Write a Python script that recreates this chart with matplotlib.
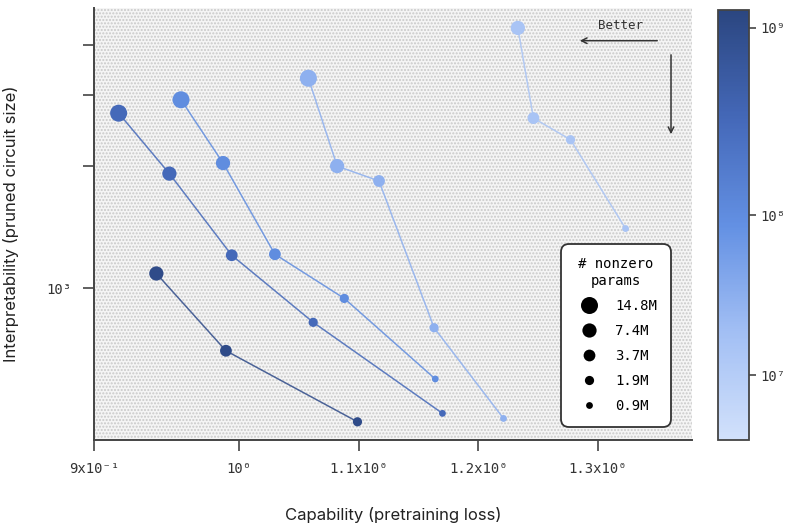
import numpy as np
import matplotlib
matplotlib.use("Agg")
import matplotlib.pyplot as plt
from matplotlib import colors
from matplotlib.cm import ScalarMappable
from matplotlib.lines import Line2D
from matplotlib.patches import Rectangle

# total params of each model (sets the colour)
total_params = [1.0e9, 3.2e8, 1.0e8, 3.0e7, 1.5e7]

# pretraining loss / pruned circuit size / nonzero params (M) per model
loss_a = [0.943, 0.991, 1.099]
circ_a = [1087, 700, 467]
nz_a = [7.4, 3.7, 1.9]

loss_b = [0.917, 0.952, 0.995, 1.062, 1.170]
circ_b = [2709, 1920, 1206, 823, 490]
nz_b = [14.8, 7.4, 3.7, 1.9, 0.9]

loss_c = [0.960, 0.989, 1.030, 1.088, 1.164]
circ_c = [2924, 2039, 1213, 943, 596]
nz_c = [14.8, 7.4, 3.7, 1.9, 0.9]

loss_d = [1.058, 1.082, 1.117, 1.163, 1.221]
circ_d = [3306, 2004, 1841, 798, 476]
nz_d = [14.8, 7.4, 3.7, 1.9, 0.9]

loss_e = [1.233, 1.246, 1.277, 1.323]
circ_e = [4403, 2634, 2329, 1404]
nz_e = [7.4, 3.7, 1.9, 0.9]

nz_levels = [14.8, 7.4, 3.7, 1.9, 0.9]
nz_labels = ["14.8M", "7.4M", "3.7M", "1.9M", "0.9M"]

x_ticks = [0.9, 1.0, 1.1, 1.2, 1.3]
x_ticklabels = ["9x10⁻¹", "10⁰", "1.1x10⁰", "1.2x10⁰", "1.3x10⁰"]
y_ticks = [1000, 2000, 3000, 4000]
y_ticklabels = ["10³", "", "", ""]
cb_ticks = [1e7, 1e8, 1e9]
cb_ticklabels = ["10⁷", "10⁸", "10⁹"]

MONO = "DejaVu Sans Mono"
SANS = "Inter"
area = {14.8: 150, 7.4: 105, 3.7: 72, 1.9: 44, 0.9: 24}

# axis scales as drawn in the original figure
XK = [0.5, 0.9, 1.0, 2.0]
XP = [-580, 0, 145, 1342]
def fwd_x(v):
    return np.interp(v, XK, XP)
def inv_x(p):
    return np.interp(p, XP, XK)

CK = [6, 7, 8, 9, 10]
CP = [-95, 65, 225, 412, 599]
def fwd_c(v):
    return np.interp(np.log10(np.clip(v, 1e-30, None)), CK, CP)
def inv_c(p):
    return 10 ** np.interp(p, CP, CK)

cmap = colors.LinearSegmentedColormap.from_list(
    "blues", [(0, "#d2e1fb"), (0.25, "#a2bff4"), (0.5, "#6390e3"),
              (0.75, "#4468b8"), (1, "#2b4680")])
norm = colors.FuncNorm((fwd_c, inv_c), vmin=3.93e6, vmax=1.248e9)

fig = plt.figure(figsize=(7.96, 5.23), dpi=100)
ax = fig.add_axes([94 / 796, 83 / 523, 598 / 796, 432 / 523])
cax = fig.add_axes([718 / 796, 83 / 523, 31 / 796, 430 / 523])

ax.set_xscale("function", functions=(fwd_x, inv_x))
ax.set_yscale("log")

# dotted background
plt.rcParams["hatch.linewidth"] = 1.0
ax.set_facecolor("#f5f5f5")
ax.add_patch(Rectangle((0, 0), 1, 1, transform=ax.transAxes, facecolor="none",
                       edgecolor="#c9c9c9", hatch=".....", lw=0, zorder=0))

series = [(loss_a, circ_a, nz_a), (loss_b, circ_b, nz_b), (loss_c, circ_c, nz_c),
          (loss_d, circ_d, nz_d), (loss_e, circ_e, nz_e)]
for tp, (lx, cy, nz) in zip(total_params, series):
    c = cmap(norm(tp))
    ax.plot(lx, cy, color=c, lw=1.1, alpha=0.85, zorder=2)
    ax.scatter(lx, cy, s=[area[n] for n in nz], color=c, edgecolor="none", zorder=3)

ax.set_xlim(0.9, 1.3785)
ax.set_ylim(421, 4932)
ax.set_xticks(x_ticks)
ax.set_xticklabels(x_ticklabels, fontfamily=MONO, fontsize=10, color="#333")
ax.xaxis.set_minor_locator(matplotlib.ticker.NullLocator())
ax.set_yticks(y_ticks)
ax.set_yticklabels(y_ticklabels, fontfamily=MONO, fontsize=10, color="#333")
ax.yaxis.set_minor_locator(matplotlib.ticker.NullLocator())
ax.tick_params(length=8, width=1.2, color="#444", pad=8)

for s in ["top", "right"]:
    ax.spines[s].set_visible(False)
for s in ["left", "bottom"]:
    ax.spines[s].set_color("#444")
    ax.spines[s].set_linewidth(1.4)

ax.set_xlabel("Capability (pretraining loss)", fontfamily=SANS, fontsize=12,
              color="#222", labelpad=22)
ax.set_ylabel("Interpretability (pruned circuit size)", fontfamily=SANS,
              fontsize=12, color="#222", labelpad=20)

# "Better" arrows
ax.annotate("", xy=(0.8077, 0.9243), xytext=(0.9465, 0.9243), xycoords="axes fraction",
            arrowprops=dict(arrowstyle="->", color="#333", lw=1.1))
ax.annotate("", xy=(0.9649, 0.7014), xytext=(0.9649, 0.898), xycoords="axes fraction",
            arrowprops=dict(arrowstyle="->", color="#333", lw=1.1))
ax.text(0.8796, 0.9606, "Better", transform=ax.transAxes, ha="center", va="center",
        fontfamily=MONO, fontsize=9, color="#333")

# size legend
handles = [Line2D([], [], marker="o", ls="none", color="black", markeredgewidth=0,
                  markersize=np.sqrt(area[n])) for n in nz_levels]
leg = ax.legend(handles, nz_labels, title="# nonzero\nparams", loc="lower right",
                bbox_to_anchor=(0.965, 0.03), borderaxespad=0, frameon=True,
                fancybox=True, framealpha=1, labelspacing=0.8, handletextpad=0.9,
                borderpad=1.0, prop={"family": MONO, "size": 10},
                title_fontproperties={"family": MONO, "size": 10})
leg.get_title().set_multialignment("center")
leg.get_frame().set_edgecolor("#333")
leg.get_frame().set_linewidth(1.3)
leg.get_frame().set_boxstyle("round", pad=0, rounding_size=0.6)
leg._legend_box.align = "center"

# colorbar
cb = fig.colorbar(ScalarMappable(norm=norm, cmap=cmap), cax=cax)
cb.set_ticks(cb_ticks)
cb.set_ticklabels(cb_ticklabels)
cb.minorticks_off()
cax.tick_params(length=5, width=1.2, color="#444", labelsize=10, labelcolor="#333")
for t in cax.get_yticklabels():
    t.set_fontfamily(MONO)
cb.outline.set_edgecolor("#444")
cb.outline.set_linewidth(1.3)

fig.savefig("out.png", dpi=100)
